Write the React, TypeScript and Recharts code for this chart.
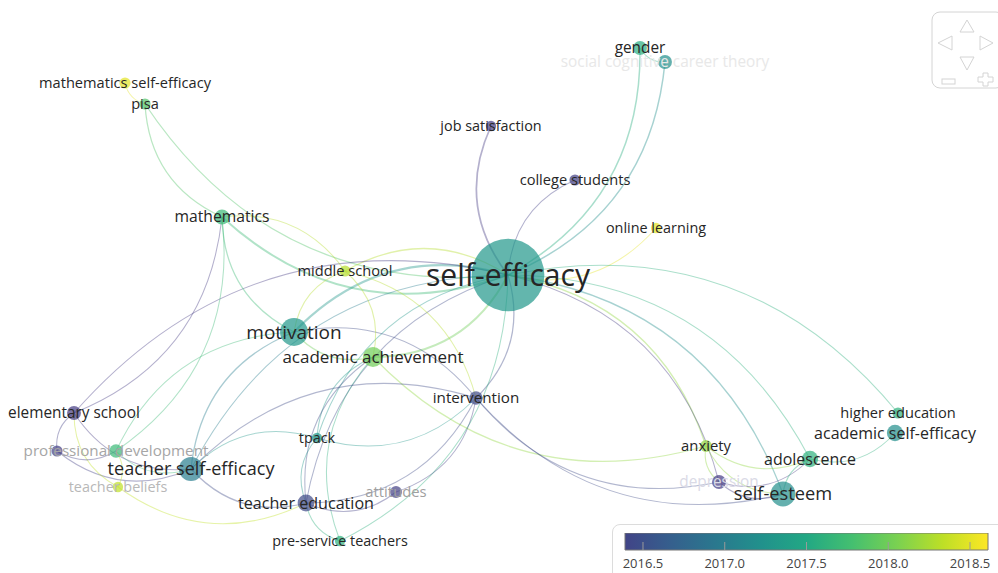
import { ScatterChart, Scatter, XAxis, YAxis, ReferenceArea } from "recharts";

const W = 998;
const H = 573;

// keyword map (VOSviewer style overlay), coordinates in map units == pixels
const terms = [
  "self-efficacy",
  "gender",
  "social cognitive career theory",
  "mathematics self-efficacy",
  "pisa",
  "job satisfaction",
  "college students",
  "online learning",
  "mathematics",
  "middle school",
  "motivation",
  "academic achievement",
  "intervention",
  "elementary school",
  "unlabelled",
  "professional development",
  "teacher self-efficacy",
  "teacher beliefs",
  "tpack",
  "teacher education",
  "attitudes",
  "pre-service teachers",
  "anxiety",
  "depression",
  "adolescence",
  "self-esteem",
  "higher education",
  "academic self-efficacy",
];
const mapX = [508, 640, 665, 125, 145, 491, 575, 656, 222, 345, 294, 373, 476, 74, 57, 116, 191, 118, 317, 306, 396, 340, 706, 719, 810, 783, 898, 895];
const mapY = [275, 48, 62, 83, 104, 126, 180, 228, 217, 271, 332, 357, 398, 413, 451, 451, 469, 487, 438, 503, 492, 541, 446, 482, 459, 494, 413, 433];
const occurrences = [300, 11, 11, 7, 7, 6, 7, 6, 13, 7, 44, 23, 10, 11, 7, 10, 33, 6, 6, 16, 8, 6, 8, 11, 15, 35, 7, 15];
const avgYear = [2017.3, 2017.55, 2017.2, 2018.5, 2017.85, 2016.3, 2016.35, 2018.5, 2017.7, 2018.3, 2017.3, 2018.0, 2016.45, 2016.3, 2016.35, 2017.7, 2017.0, 2018.35, 2017.3, 2016.45, 2016.35, 2017.6, 2018.15, 2016.3, 2017.6, 2017.2, 2017.6, 2017.2];

const hiddenLabels = ["unlabelled"];
const fadedLabels: Record<string, string> = {
  "social cognitive career theory": "#e8e8e8",
  "professional development": "#a6a6a6",
  "teacher beliefs": "#b8b8b8",
  attitudes: "#a0a0a0",
  depression: "#dadae6",
};

// source, target, link strength (curve bends to the right of source -> target)
const links: [string, string, number][] = [
  ["self-efficacy", "gender", 2],
  ["self-efficacy", "social cognitive career theory", 2],
  ["gender", "social cognitive career theory", 1],
  ["job satisfaction", "self-efficacy", 2.5],
  ["college students", "self-efficacy", 1],
  ["self-efficacy", "online learning", 1],
  ["mathematics", "self-efficacy", 3],
  ["pisa", "self-efficacy", 1.5],
  ["pisa", "mathematics", 1.5],
  ["mathematics self-efficacy", "pisa", 1],
  ["self-efficacy", "middle school", 1.5],
  ["self-efficacy", "motivation", 3.5],
  ["academic achievement", "self-efficacy", 3],
  ["intervention", "self-efficacy", 1.5],
  ["self-efficacy", "tpack", 1],
  ["self-efficacy", "teacher education", 1],
  ["pre-service teachers", "self-efficacy", 1],
  ["anxiety", "self-efficacy", 1.5],
  ["depression", "self-efficacy", 1],
  ["self-esteem", "self-efficacy", 1.5],
  ["adolescence", "self-efficacy", 1],
  ["higher education", "self-efficacy", 1],
  ["self-efficacy", "elementary school", 1],
  ["self-efficacy", "teacher self-efficacy", 1],
  ["mathematics", "motivation", 1.5],
  ["elementary school", "mathematics", 1],
  ["professional development", "mathematics", 1],
  ["middle school", "mathematics", 1],
  ["motivation", "academic achievement", 1.5],
  ["motivation", "teacher self-efficacy", 1.5],
  ["motivation", "professional development", 1],
  ["intervention", "motivation", 1],
  ["middle school", "motivation", 1],
  ["academic achievement", "middle school", 1],
  ["intervention", "middle school", 1],
  ["academic achievement", "tpack", 1],
  ["academic achievement", "pre-service teachers", 1],
  ["academic achievement", "teacher education", 1],
  ["academic achievement", "anxiety", 1.5],
  ["teacher self-efficacy", "teacher education", 1.5],
  ["unlabelled", "teacher self-efficacy", 1],
  ["elementary school", "teacher self-efficacy", 1],
  ["tpack", "teacher self-efficacy", 1],
  ["intervention", "teacher self-efficacy", 1],
  ["elementary school", "unlabelled", 1],
  ["elementary school", "teacher beliefs", 1],
  ["unlabelled", "professional development", 1],
  ["teacher beliefs", "teacher education", 1],
  ["teacher education", "pre-service teachers", 1],
  ["teacher education", "attitudes", 1],
  ["teacher education", "intervention", 1],
  ["tpack", "teacher education", 1],
  ["attitudes", "intervention", 1],
  ["intervention", "depression", 1],
  ["intervention", "self-esteem", 1],
  ["anxiety", "depression", 1],
  ["anxiety", "self-esteem", 1],
  ["anxiety", "adolescence", 1],
  ["depression", "self-esteem", 1],
  ["depression", "adolescence", 1],
  ["adolescence", "self-esteem", 1.5],
  ["adolescence", "academic self-efficacy", 1],
  ["tpack", "intervention", 1],
  ["professional development", "teacher self-efficacy", 1],
  ["teacher beliefs", "professional development", 1],
];

const yearTicks = [2016.5, 2017.0, 2017.5, 2018.0, 2018.5];
const yearRange: [number, number] = [2016.39, 2018.61];

const VIRIDIS = ["#440154", "#482475", "#414487", "#355f8d", "#2a788e", "#21918c", "#22a884", "#44bf70", "#7ad151", "#bddf26", "#fde725"];
const T0 = 0.2; // colour bar starts at this point of viridis
const BEND = 0.3;

function hexToRgb(h: string) {
  return [parseInt(h.slice(1, 3), 16), parseInt(h.slice(3, 5), 16), parseInt(h.slice(5, 7), 16)];
}

function viridisAt(t: number) {
  const c = Math.max(0, Math.min(1, t)) * (VIRIDIS.length - 1);
  const i = Math.min(VIRIDIS.length - 2, Math.floor(c));
  const f = c - i;
  const a = hexToRgb(VIRIDIS[i]);
  const b = hexToRgb(VIRIDIS[i + 1]);
  const m = a.map((v, k) => Math.round(v + (b[k] - v) * f));
  return `rgb(${m[0]},${m[1]},${m[2]})`;
}

function yearColor(year: number) {
  const t = T0 + (1 - T0) * (year - yearRange[0]) / (yearRange[1] - yearRange[0]);
  return viridisAt(t);
}

const nodes = terms.map((name, i) => ({
  name,
  x: mapX[i],
  y: mapY[i],
  occ: occurrences[i],
  year: avgYear[i],
}));
const byName: Record<string, (typeof nodes)[number]> = {};
nodes.forEach((n) => (byName[n.name] = n));

const radius = (occ: number) => 2.1 * Math.sqrt(occ);
const labelSize = (occ: number) => 1.17 * (10 + 0.45 * Math.min(radius(occ), 35));

function NodeDot(props: any) {
  const { cx, cy, payload } = props;
  return (
    <circle cx={cx} cy={cy} r={radius(payload.occ)} fill={yearColor(payload.year)} fillOpacity={0.7} />
  );
}

function NodeLabel(props: any) {
  const { cx, cy, payload } = props;
  if (hiddenLabels.includes(payload.name)) return <g />;
  return (
    <text
      x={cx}
      y={cy}
      dy="0.35em"
      textAnchor="middle"
      fontSize={labelSize(payload.occ)}
      fontFamily="'Open Sans', sans-serif"
      fill={fadedLabels[payload.name] ?? "#262626"}
    >
      {payload.name}
    </text>
  );
}

function makeEdgeLine(color: string, width: number) {
  return (p: any) => {
    const pts = p.points || [];
    if (pts.length < 2) return <g />;
    const ax = pts[0].x ?? pts[0].cx;
    const ay = pts[0].y ?? pts[0].cy;
    const bx = pts[1].x ?? pts[1].cx;
    const by = pts[1].y ?? pts[1].cy;
    const dx = bx - ax;
    const dy = by - ay;
    const qx = (ax + bx) / 2 - dy * BEND;
    const qy = (ay + by) / 2 + dx * BEND;
    return (
      <path
        d={`M${ax},${ay} Q${qx},${qy} ${bx},${by}`}
        fill="none"
        stroke={color}
        strokeWidth={width}
        strokeOpacity={0.4}
      />
    );
  };
}

const edges = links.map(([s, t, w]) => {
  const a = byName[s];
  const b = byName[t];
  const minor = a.occ <= b.occ ? a : b;
  return { a, b, color: yearColor(minor.year), width: 0.6 + 0.45 * w };
});

function YearTick(props: any) {
  const { x, y, payload } = props;
  return (
    <g>
      <line x1={x} x2={x} y1={y - 8} y2={y} stroke="#9a9a9a" strokeWidth={1} />
      <text x={x} y={y + 18} textAnchor="middle" fontSize={13} fill="#444" fontFamily="'Open Sans', sans-serif">
        {payload.value.toFixed(1)}
      </text>
    </g>
  );
}

function NavControl() {
  const s = { fill: "none", stroke: "#d4d4d4", strokeWidth: 1 };
  return (
    <svg width={70} height={84} style={{ position: "absolute", left: 930, top: 10 }}>
      <rect x={2} y={2} width={72} height={76} rx={8} {...s} />
      <polygon points="37,10 30,22 44,22" {...s} />
      <polygon points="8,33 22,26 22,40" {...s} />
      <polygon points="63,33 50,26 50,40" {...s} />
      <polygon points="37,60 30,47 44,47" {...s} />
      <rect x={12} y={69} width={13} height={5} {...s} />
      <path d="M48,67 h5 v-4 h5 v4 h5 v5 h-5 v4 h-5 v-4 h-5 z" {...s} />
    </svg>
  );
}

export default function App() {
  return (
    <div
      style={{
        position: "absolute",
        left: 0,
        top: 0,
        width: W,
        height: H,
        overflow: "hidden",
        background: "#fff",
        fontFamily: "'Open Sans', sans-serif",
      }}
    >
      <ScatterChart width={W} height={H} margin={{ top: 0, right: 0, bottom: 0, left: 0 }}>
        <XAxis type="number" dataKey="x" domain={[0, W]} hide />
        <YAxis type="number" dataKey="y" domain={[0, H]} reversed hide />
        {edges.map((e, i) => (
          <Scatter
            key={i}
            data={[e.a, e.b]}
            line={makeEdgeLine(e.color, e.width)}
            shape={() => <g />}
            isAnimationActive={false}
          />
        ))}
        <Scatter data={nodes} shape={NodeDot} isAnimationActive={false} />
        <Scatter data={nodes} shape={NodeLabel} isAnimationActive={false} />
      </ScatterChart>

      <NavControl />

      <div
        style={{
          position: "absolute",
          left: 612,
          top: 524,
          width: 400,
          height: 70,
          border: "1px solid #dcdcdc",
          borderRadius: 8,
          boxSizing: "border-box",
        }}
      />
      <div style={{ position: "absolute", left: 605, top: 533 }}>
        <ScatterChart width={403} height={40} margin={{ top: 0, right: 20, bottom: 0, left: 20 }}>
          <defs>
            <linearGradient id="viridisBar" x1="0" y1="0" x2="1" y2="0">
              {VIRIDIS.slice(2).map((c, i, arr) => (
                <stop key={c} offset={`${(i / (arr.length - 1)) * 100}%`} stopColor={c} />
              ))}
            </linearGradient>
          </defs>
          <XAxis
            type="number"
            dataKey="x"
            domain={yearRange}
            ticks={yearTicks}
            tick={YearTick}
            tickSize={0}
            tickMargin={0}
            axisLine={false}
            tickLine={false}
            height={23}
            allowDataOverflow
          />
          <YAxis type="number" dataKey="y" domain={[0, 1]} hide />
          <ReferenceArea
            x1={yearRange[0]}
            x2={yearRange[1]}
            y1={0}
            y2={1}
            fill="url(#viridisBar)"
            fillOpacity={1}
            stroke="#777"
            strokeWidth={1}
            ifOverflow="extendDomain"
          />
          <Scatter data={yearTicks.map((v) => ({ x: v, y: 0.5 }))} shape={() => <g />} isAnimationActive={false} />
        </ScatterChart>
      </div>
    </div>
  );
}
